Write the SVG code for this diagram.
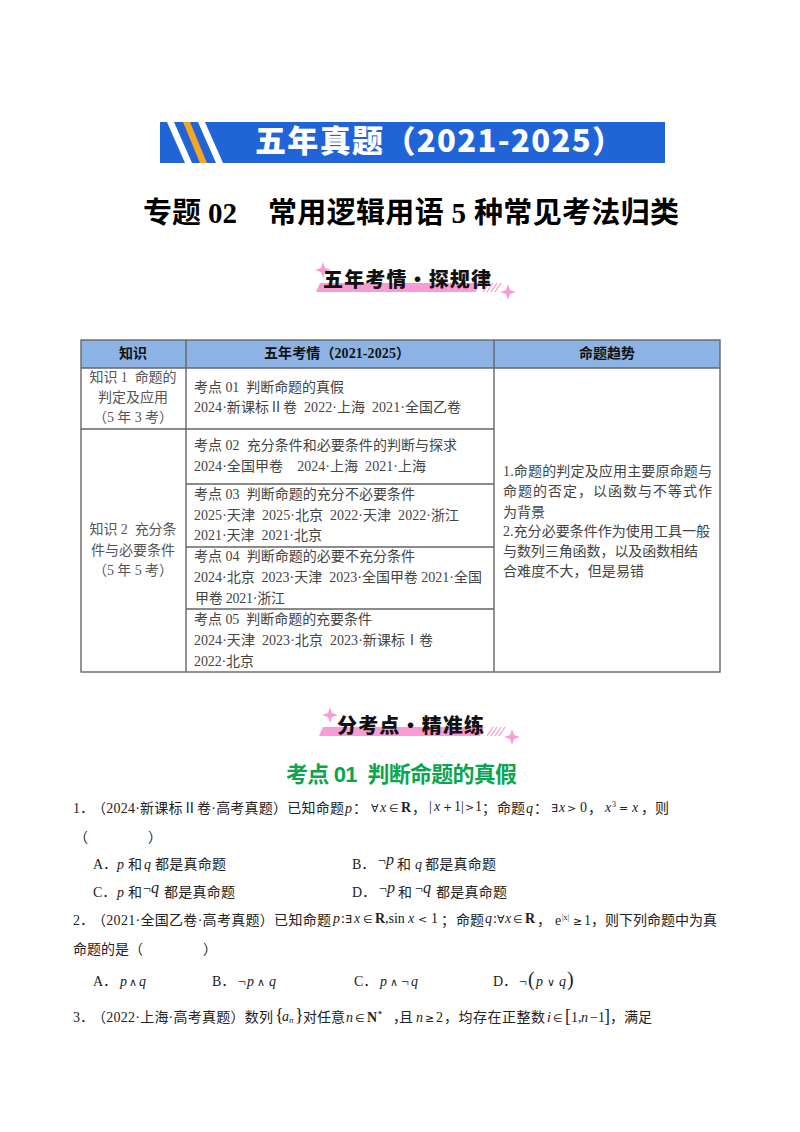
<svg xmlns="http://www.w3.org/2000/svg" width="800" height="1132" viewBox="0 0 800 1132">
<style>
text{font-family:"Liberation Serif","Noto Sans CJK SC",serif;font-size:14px;fill:#222;white-space:pre}
.c{fill:#555;text-anchor:middle}
.t{fill:#444}
.h{font-weight:700;fill:#111;text-anchor:middle}
.m{font-style:italic}
.B{font-weight:700}
.s{font-family:"DejaVu Sans",sans-serif;font-size:11px}
.sup{font-size:8px}
.big{font-size:16px;font-style:italic}
.tb{fill:none;stroke:#666;stroke-width:1.4}
.sub{font-family:"Noto Sans CJK SC","Liberation Sans",sans-serif;font-weight:900;font-size:20px;fill:#111}
.pink{fill:#f99bd6}
.hatch{stroke:#f99bd6;stroke-width:1.3}
</style>
<defs>
<polygon id="spark" points="0,-8 2,-2 8,0 2,2 0,8 -2,2 -8,0 -2,-2"/>
</defs>
<rect width="800" height="1132" fill="#fff"/>
<g id="banner">
<rect x="160" y="122" width="505" height="41" fill="#2164d8"/>
<polygon points="167,122 174,122 192,163 185,163" fill="#fff"/>
<polygon points="183,122 190,122 207,163 200,163" fill="#f5a623"/>
<polygon points="198,122 205,122 223,163 216,163" fill="#fff"/>
<text x="255" y="152" textLength="368" style="font-family:'Noto Sans CJK SC',sans-serif;font-weight:900;font-size:31px;fill:#fff">五年真题（2021-2025）</text>
</g>
<g id="title">
<text x="143" y="223" textLength="94" style="font-size:29px;fill:#000;font-weight:700">专题 02</text>
<text x="268" y="223" textLength="411" style="font-size:29px;fill:#000;font-weight:700">常用逻辑用语 5 种常见考法归类</text>
</g>
<g id="heading-1">
<polygon class="pink" points="316,292 320,283 480,283 476,292"/>
<use href="#spark" class="pink" x="323" y="270"/>
<use href="#spark" class="pink" x="508" y="292"/>
<g class="hatch"><line x1="483" y1="292" x2="489" y2="283"/><line x1="487" y1="292" x2="493" y2="283"/><line x1="491" y1="292" x2="497" y2="283"/><line x1="495" y1="292" x2="501" y2="283"/></g>
<text class="sub" x="323" y="287" textLength="168">五年考情・探规律</text>
</g>
<g id="table">
<rect x="81" y="340" width="639" height="28" fill="#8cb3e3"/>
<rect class="tb" x="81" y="340" width="639" height="332"/>
<path class="tb" d="M81 368H720M186 340V672M494 340V672M81 429H494M186 484H494M186 547H494M186 609H494"/>
<text class="h" x="133" y="358">知识</text>
<text class="h" x="337" y="358" textLength="146">五年考情（2021-2025）</text>
<text class="h" x="607" y="358">命题趋势</text>
<text class="c" x="133" y="382" textLength="87">知识 1  命题的</text>
<text class="c" x="133" y="402" textLength="70">判定及应用</text>
<text class="c" x="133" y="422" textLength="80">（5 年 3 考）</text>
<text class="c" x="133" y="534" textLength="87">知识 2  充分条</text>
<text class="c" x="133" y="555" textLength="84">件与必要条件</text>
<text class="c" x="133" y="575" textLength="80">（5 年 5 考）</text>
<text class="t" x="194" y="392" textLength="150">考点 01  判断命题的真假</text>
<text class="t" x="194" y="412" textLength="267">2024·新课标Ⅱ卷  2022·上海  2021·全国乙卷</text>
<text class="t" x="194" y="450" textLength="263">考点 02  充分条件和必要条件的判断与探求</text>
<text class="t" x="194" y="471" textLength="232">2024·全国甲卷    2024·上海  2021·上海</text>
<text class="t" x="194" y="499" textLength="221">考点 03  判断命题的充分不必要条件</text>
<text class="t" x="194" y="520" textLength="265">2025·天津  2025·北京  2022·天津  2022·浙江</text>
<text class="t" x="194" y="540" textLength="128">2021·天津  2021·北京</text>
<text class="t" x="194" y="561" textLength="221">考点 04  判断命题的必要不充分条件</text>
<text class="t" x="194" y="582" textLength="288">2024·北京  2023·天津  2023·全国甲卷 2021·全国</text>
<text class="t" x="195" y="603" textLength="90">甲卷 2021·浙江</text>
<text class="t" x="194" y="624" textLength="178">考点 05  判断命题的充要条件</text>
<text class="t" x="194" y="645" textLength="239">2024·天津  2023·北京  2023·新课标Ⅰ卷</text>
<text class="t" x="194" y="666" textLength="60">2022·北京</text>
<text class="t" x="503" y="476" textLength="209">1.命题的判定及应用主要原命题与</text>
<text class="t" x="503" y="496" textLength="209">命题的否定，以函数与不等式作</text>
<text class="t" x="503" y="517" textLength="42">为背景</text>
<text class="t" x="503" y="536" textLength="207">2.充分必要条件作为使用工具一般</text>
<text class="t" x="503" y="556" textLength="195">与数列三角函数，以及函数相结</text>
<text class="t" x="503" y="576" textLength="141">合难度不大，但是易错</text>
</g>
<g id="heading-2">
<polygon class="pink" points="319,736 323,727 484,727 480,736"/>
<use href="#spark" class="pink" x="330" y="715"/>
<use href="#spark" class="pink" x="512" y="737"/>
<g class="hatch"><line x1="487" y1="736" x2="493" y2="727"/><line x1="491" y1="736" x2="497" y2="727"/><line x1="495" y1="736" x2="501" y2="727"/><line x1="499" y1="736" x2="505" y2="727"/></g>
<text class="sub" x="337" y="733" textLength="147">分考点・精准练</text>
</g>
<g id="section-title">
<text x="286" y="782" textLength="231" style="font-weight:700;font-size:22px;fill:#0aa64f;font-family:'Liberation Sans','Noto Sans CJK SC',sans-serif">考点 01  判断命题的真假</text>
</g>
<g id="question-1">
<text x="73" y="813">1．</text>
<text x="92" y="813" textLength="252">（2024·新课标Ⅱ卷·高考真题）已知命题</text>
<text class="m" x="345" y="813">p</text>
<text x="353" y="813">：</text>
<text y="812"><tspan class="s" x="371">∀</tspan><tspan class="m" x="380">x</tspan><tspan class="s" x="389">∈</tspan><tspan class="B" x="401">R</tspan></text>
<text x="412" y="813">，</text>
<text y="811"><tspan x="429">|</tspan><tspan class="m" x="434">x</tspan><tspan class="s" x="443">+</tspan><tspan x="454">1</tspan><tspan x="461">|</tspan><tspan class="s" x="465">&gt;</tspan><tspan x="475">1</tspan></text>
<text x="482" y="813">；</text>
<text x="497" y="813" textLength="28">命题</text>
<text class="m" x="526" y="813">q</text>
<text x="534" y="813">：</text>
<text y="812"><tspan class="s" x="551">∃</tspan><tspan class="m" x="559">x</tspan><tspan class="s" x="567">&gt;</tspan><tspan x="580">0</tspan></text>
<text x="588" y="813">，</text>
<text y="812"><tspan class="m" x="605">x</tspan><tspan class="sup" x="612" y="807">3</tspan><tspan class="s" x="619" y="812">=</tspan><tspan class="m" x="632">x</tspan></text>
<text x="641" y="813">，</text>
<text x="655" y="813">则</text>
<text x="74" y="842">（</text>
<text x="148" y="842">）</text>
<text x="93" y="869">A．</text>
<text class="m" x="117" y="869">p</text>
<text x="128" y="869">和</text>
<text class="m" x="144" y="869">q</text>
<text x="155" y="869" textLength="71">都是真命题</text>
<text x="352" y="869">B．</text>
<text y="865"><tspan x="378">¬</tspan><tspan class="big" x="386">p</tspan></text>
<text x="397" y="869">和</text>
<text class="m" x="415" y="869">q</text>
<text x="425" y="869" textLength="71">都是真命题</text>
<text x="93" y="897">C．</text>
<text class="m" x="117" y="897">p</text>
<text x="128" y="897">和</text>
<text y="893"><tspan x="143">¬</tspan><tspan class="big" x="151">q</tspan></text>
<text x="164" y="897" textLength="71">都是真命题</text>
<text x="352" y="897">D．</text>
<text y="893"><tspan x="379">¬</tspan><tspan class="big" x="387">p</tspan></text>
<text x="398" y="897">和</text>
<text y="893"><tspan x="415">¬</tspan><tspan class="big" x="423">q</tspan></text>
<text x="436" y="897" textLength="71">都是真命题</text>
</g>
<g id="question-2">
<text x="73" y="925">2．</text>
<text x="92" y="925" textLength="239">（2021·全国乙卷·高考真题）已知命题</text>
<text y="923"><tspan class="m" x="333">p</tspan><tspan x="341">:</tspan><tspan class="s" x="345">∃</tspan><tspan class="m" x="354">x</tspan><tspan class="s" x="363">∈</tspan><tspan class="B" x="375">R</tspan><tspan x="385">,sin</tspan><tspan class="m" x="408">x</tspan><tspan class="s" x="418">&lt;</tspan><tspan x="431">1</tspan></text>
<text x="441" y="925">；</text>
<text x="456" y="925" textLength="28">命题</text>
<text y="923"><tspan class="m" x="485">q</tspan><tspan x="493">:</tspan><tspan class="s" x="497">∀</tspan><tspan class="m" x="505">x</tspan><tspan class="s" x="513">∈</tspan><tspan class="B" x="525">R</tspan></text>
<text x="537" y="925">，</text>
<text y="925"><tspan x="555">e</tspan><tspan class="sup" x="562" y="920">|x|</tspan><tspan class="s" x="573" y="925">≥</tspan><tspan x="584">1</tspan></text>
<text x="591" y="925" textLength="126">，则下列命题中为真</text>
<text x="73" y="954" textLength="70">命题的是（</text>
<text x="203" y="954">）</text>
<text x="93" y="986">A．</text>
<text y="986"><tspan class="m" x="120">p</tspan><tspan class="s" x="129">∧</tspan><tspan class="m" x="139">q</tspan></text>
<text x="212" y="986">B．</text>
<text y="986"><tspan x="238">¬</tspan><tspan class="m" x="247">p</tspan><tspan class="s" x="257">∧</tspan><tspan class="m" x="269">q</tspan></text>
<text x="354" y="986">C．</text>
<text y="986"><tspan class="m" x="380">p</tspan><tspan class="s" x="390">∧</tspan><tspan x="401">¬</tspan><tspan class="m" x="411">q</tspan></text>
<text x="493" y="986">D．</text>
<text y="986"><tspan x="519">¬</tspan><tspan style="font-size:20px" x="528">(</tspan><tspan class="m" x="536">p</tspan><tspan class="s" x="547">∨</tspan><tspan class="m" x="559">q</tspan><tspan style="font-size:20px" x="567">)</tspan></text>
</g>
<g id="question-3">
<text x="73" y="1022">3．</text>
<text x="92" y="1022" textLength="181">（2022·上海·高考真题）数列</text>
<text y="1021"><tspan style="font-size:18px" x="275">{</tspan><tspan class="m" x="282">a</tspan><tspan class="m" style="font-size:9px" x="289" y="1023">n</tspan><tspan style="font-size:18px" x="295" y="1021">}</tspan></text>
<text x="303" y="1022" textLength="42">对任意</text>
<text y="1022"><tspan class="m" x="346">n</tspan><tspan class="s" x="355">∈</tspan><tspan class="B" x="367">N</tspan><tspan class="B sup" x="378" y="1017">*</tspan></text>
<text x="393" y="1022" textLength="20">，且</text>
<text y="1022"><tspan class="m" x="416">n</tspan><tspan class="s" x="425">≥</tspan><tspan x="436">2</tspan></text>
<text x="444" y="1022" textLength="101">，均存在正整数</text>
<text y="1022"><tspan class="m" x="547">i</tspan><tspan class="s" x="553">∈</tspan><tspan style="font-size:18px" x="565">[</tspan><tspan x="571">1,</tspan><tspan class="m" x="581">n</tspan><tspan x="590">−</tspan><tspan x="598">1</tspan><tspan style="font-size:18px" x="604">]</tspan></text>
<text x="610" y="1022" textLength="42">，满足</text>
</g>
</svg>
